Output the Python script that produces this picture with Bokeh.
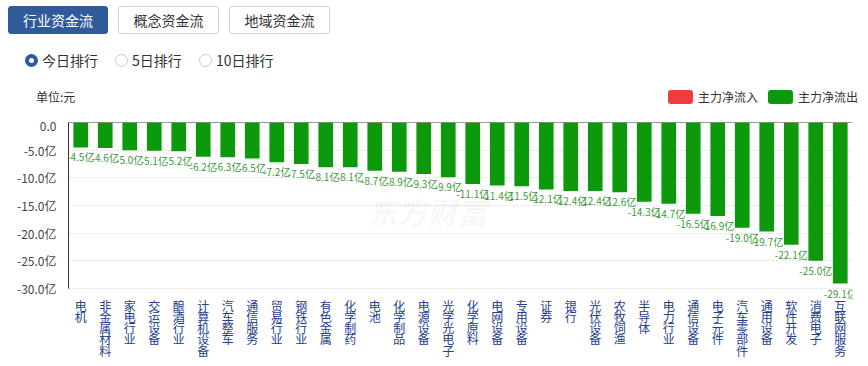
from bokeh.plotting import figure
from bokeh.models import (Range1d, FactorRange, ColumnDataSource, LabelSet, Label, Span,
                          FixedTicker, Div)
from bokeh.layouts import column
from bokeh.core.properties import value
from bokeh.embed import file_html
from bokeh.resources import INLINE

FONT = "Noto Sans CJK SC"

categories = ["电机", "非金属材料", "家电行业", "交运设备", "酿酒行业", "计算机设备", "汽车整车",
              "通信服务", "贸易行业", "钢铁行业", "有色金属", "化学制药", "电池", "化学制品",
              "电源设备", "光学光电子", "化学原料", "电网设备", "专用设备", "证券", "银行",
              "光伏设备", "农牧饲渔", "半导体", "电力行业", "通信设备", "电子元件", "汽车零部件",
              "通用设备", "软件开发", "消费电子", "互联网服务"]
net_flow = [-4.5, -4.6, -5.0, -5.1, -5.2, -6.2, -6.3, -6.5, -7.2, -7.5, -8.1, -8.1, -8.7, -8.9,
            -9.3, -9.9, -11.1, -11.4, -11.5, -12.1, -12.4, -12.4, -12.6, -14.3, -14.7, -16.5,
            -16.9, -19.0, -19.7, -22.1, -25.0, -29.1]
y_ticks = [0, -5, -10, -15, -20, -25, -30]
y_tick_labels = ["0.0", "-5.0亿", "-10.0亿", "-15.0亿", "-20.0亿", "-25.0亿", "-30.0亿"]
tabs = ["行业资金流", "概念资金流", "地域资金流"]
radios = ["今日排行", "5日排行", "10日排行"]
legend_items = ["主力净流入", "主力净流出"]
unit_text = "单位:元"

BLUE = "#2f5b9b"
GREEN = "#0c9a0c"
RED = "#f03c3c"

W, H = 868, 366
HEAD_H = 116
DIV_EXTRA = 2          # the header block renders 2px taller than requested

# ---------------- header (HTML controls) ----------------
parts = []
btn_left = [8, 118, 229]
btn_w = [100, 101, 101]
for i, t in enumerate(tabs):
    sel = i == 0
    parts.append(
        f'<div style="position:absolute;left:{btn_left[i]}px;top:6px;width:{btn_w[i]}px;height:28px;'
        f'box-sizing:border-box;border:1px solid {BLUE if sel else "#cfd4da"};border-radius:3px;'
        f'background:{BLUE if sel else "#ffffff"};color:{"#ffffff" if sel else "#333333"};'
        f'font-size:14px;line-height:26px;text-align:center;">{t}</div>')
radio_x = [25, 115, 199]
for i, t in enumerate(radios):
    sel = i == 0
    ring = f"border:4px solid {BLUE};background:#ffffff;" if sel else "border:1px solid #cccccc;background:#ffffff;"
    parts.append(
        f'<div style="position:absolute;left:{radio_x[i]}px;top:54px;width:13px;height:13px;'
        f'box-sizing:border-box;border-radius:50%;{ring}"></div>')
    parts.append(
        f'<div style="position:absolute;left:{radio_x[i] + 17}px;top:50px;font-size:14px;'
        f'line-height:20px;color:#333333;white-space:nowrap;">{t}</div>')
parts.append(
    f'<div style="position:absolute;left:36px;top:88px;font-size:12px;line-height:18px;'
    f'color:#333333;white-space:nowrap;">{unit_text}</div>')
leg_x = [668, 768]
for i, (t, c) in enumerate(zip(legend_items, [RED, GREEN])):
    parts.append(
        f'<div style="position:absolute;left:{leg_x[i]}px;top:90px;width:25px;height:14px;'
        f'border-radius:3px;background:{c};"></div>')
    parts.append(
        f'<div style="position:absolute;left:{leg_x[i] + 30}px;top:88px;font-size:12px;'
        f'line-height:18px;color:#333333;white-space:nowrap;">{t}</div>')
head_html = (f'<div style="position:relative;width:{W}px;height:{HEAD_H}px;'
             f'font-family:\'{FONT}\',sans-serif;">' + "".join(parts) + "</div>")
head = Div(text=head_html, width=W, height=HEAD_H, margin=0)

# ---------------- main chart ----------------
src = ColumnDataSource(dict(cat=categories, val=net_flow,
                            lab=[f"{v:.1f}亿" for v in net_flow]))

FRAME_TOP, AXIS_BOTTOM = 124, 290   # page pixels of y=0 and y=-30
top_border = FRAME_TOP - HEAD_H - DIV_EXTRA
fig_h = H - HEAD_H
frame_bottom = HEAD_H + DIV_EXTRA + fig_h
y_start = y_ticks[-1] * (frame_bottom - FRAME_TOP) / (AXIS_BOTTOM - FRAME_TOP)

p = figure(width=W, height=fig_h, x_range=FactorRange(*categories),
           y_range=Range1d(y_start, 0), x_axis_location=None,
           toolbar_location=None, output_backend="svg",
           min_border_left=68, min_border_right=16, min_border_top=top_border,
           min_border_bottom=0)
p.outline_line_color = None
p.xgrid.visible = False
p.ygrid.grid_line_color = "#dddddd"
p.ygrid.grid_line_dash = "2 2"
p.ygrid.ticker = FixedTicker(ticks=y_ticks)

p.add_layout(Label(x=12.2, y=-16.0, text="东方财富", text_font=FONT, text_font_size="30px",
                   text_font_style="bold italic", text_color="#000000", text_alpha=0.05,
                   text_baseline="middle", level="underlay"))

p.vbar(x="cat", top="val", bottom=0, width=0.6, source=src, fill_color=GREEN,
       line_color=None)

p.add_layout(Span(location=0, dimension="width", line_color="#333333", line_width=1))

p.add_layout(LabelSet(x="cat", y="val", text="lab", source=src, text_font=value(FONT),
                      text_font_size="10px", text_color="#3a9a3a", text_align="center",
                      text_baseline="top", y_offset=-2))

# category labels, one character per line (vertical stacking)
ch_cat, ch_txt, ch_off = [], [], []
for c in categories:
    for k, ch in enumerate(c):
        ch_cat.append(c)
        ch_txt.append(ch)
        ch_off.append(-(8 + 11.3 * k))
csrc = ColumnDataSource(dict(cat=ch_cat, ch=ch_txt, off=ch_off,
                             y=[y_ticks[-1]] * len(ch_cat)))
p.add_layout(LabelSet(x="cat", y="y", text="ch", y_offset="off", source=csrc,
                      text_font=value(FONT), text_font_size="12px", text_color="#23408e",
                      text_align="center", text_baseline="top"))

p.yaxis.ticker = FixedTicker(ticks=y_ticks)
p.yaxis.bounds = (y_ticks[-1], y_ticks[0])
p.yaxis.major_label_overrides = {t: l for t, l in zip(y_ticks, y_tick_labels)}
p.yaxis.major_tick_line_color = None
p.yaxis.minor_tick_line_color = None
p.yaxis.axis_line_color = "#333333"
p.yaxis.major_label_text_font = FONT
p.yaxis.major_label_text_font_size = "12px"
p.yaxis.major_label_text_color = "#444444"
p.yaxis.major_label_standoff = 6

layout = column(head, p, spacing=0)
open("out.html", "w").write(file_html(layout, INLINE))
